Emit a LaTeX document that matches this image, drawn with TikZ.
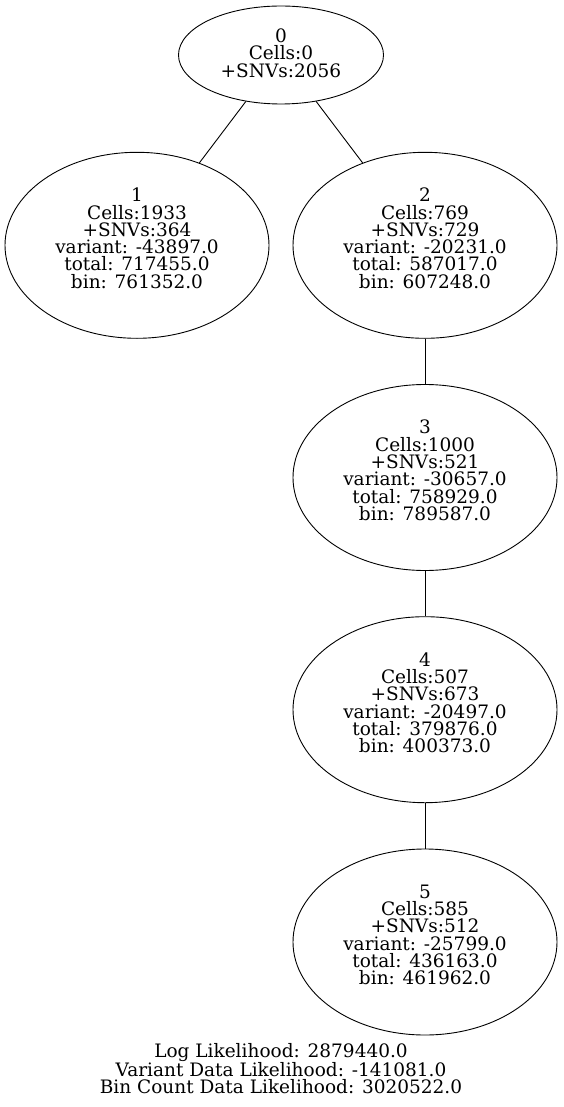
\documentclass[tikz,border=0pt]{standalone}
\usepackage{fontspec}
\setmainfont{DejaVu Serif}
\usetikzlibrary{shapes.geometric}
\begin{document}
\begin{tikzpicture}[x=1pt,y=-1pt,
  treenode/.style={ellipse, draw, line width=0.9pt, inner sep=0pt,
    minimum width=264pt, minimum height=186pt},
  rootnode/.style={treenode, minimum width=205pt, minimum height=98pt},
  lbl/.style={align=center, inner sep=0pt,
    font=\fontsize{18.5}{17.3}\selectfont},
  link/.style={line width=0.9pt}]
\useasboundingbox (0,0) rectangle (563,1107);

% tree of clones
\node[rootnode, label={[lbl, yshift=2pt]center:{0\\Cells:0\\+SNVs:2056}}] (n0) at (281,55) {};
\node[treenode, label={[lbl, yshift=7pt]center:{1\\Cells:1933\\+SNVs:364\\variant: -43897.0\\total: 717455.0\\bin: 761352.0}}] (n1) at (137,245.3) {};
\node[treenode, label={[lbl, yshift=7pt]center:{2\\Cells:769\\+SNVs:729\\variant: -20231.0\\total: 587017.0\\bin: 607248.0}}] (n2) at (425,245.3) {};
\node[treenode, label={[lbl, yshift=7pt]center:{3\\Cells:1000\\+SNVs:521\\variant: -30657.0\\total: 758929.0\\bin: 789587.0}}] (n3) at (425,477.5) {};
\node[treenode, label={[lbl, yshift=7pt]center:{4\\Cells:507\\+SNVs:673\\variant: -20497.0\\total: 379876.0\\bin: 400373.0}}] (n4) at (425,709.7) {};
\node[treenode, label={[lbl, yshift=7pt]center:{5\\Cells:585\\+SNVs:512\\variant: -25799.0\\total: 436163.0\\bin: 461962.0}}] (n5) at (425,942) {};

\draw[link] (n0) -- (n1);
\draw[link] (n0) -- (n2);
\draw[link] (n2) -- (n3);
\draw[link] (n3) -- (n4);
\draw[link] (n4) -- (n5);

% likelihood summary
\node[lbl] (summary) at (281,1068.5) {Log Likelihood: 2879440.0\\Variant Data Likelihood: -141081.0\\Bin Count Data Likelihood: 3020522.0};
\end{tikzpicture}
\end{document}
